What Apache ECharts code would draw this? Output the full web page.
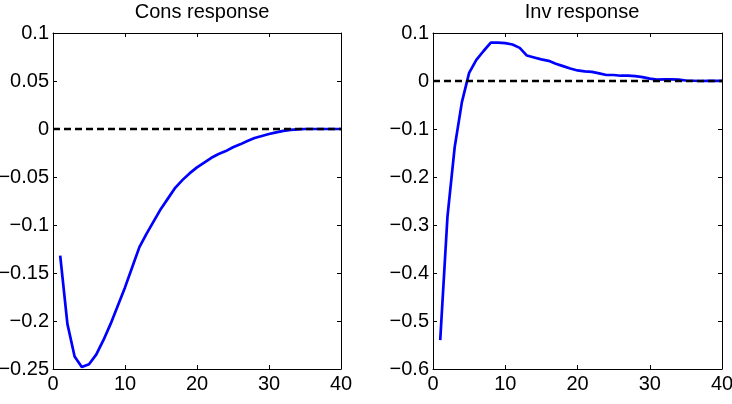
<!DOCTYPE html>
<html>
<head>
<meta charset="utf-8">
<script src="https://cdn.jsdelivr.net/npm/echarts@6/dist/echarts.min.js"></script>
<style>
  html, body { margin: 0; padding: 0; background: #fff; }
  #main { width: 732px; height: 404px; }
</style>
</head>
<body>
<div id="main"></div>
<script>
// periods of the impulse response
var periods = [1,2,3,4,5,6,7,8,9,10,11,12,13,14,15,16,17,18,19,20,
               21,22,23,24,25,26,27,28,29,30,31,32,33,34,35,36,37,38,39,40];
// consumption response
var consResp = [-0.132,-0.203,-0.237,-0.248,-0.245,-0.235,-0.220,-0.203,-0.184,-0.165,
                -0.144,-0.123,-0.109,-0.096,-0.083,-0.072,-0.061,-0.053,-0.046,-0.040,
                -0.035,-0.030,-0.026,-0.023,-0.019,-0.016,-0.0125,-0.0094,-0.0073,-0.0052,
                -0.0035,-0.002,-0.001,-0.0004,0,0,0,0,0,0];
// investment response
var invResp = [-0.540,-0.283,-0.138,-0.044,0.017,0.044,0.0625,0.080,0.080,0.079,
               0.076,0.069,0.053,0.049,0.045,0.042,0.036,0.031,0.026,0.022,
               0.020,0.019,0.016,0.0125,0.0125,0.011,0.011,0.010,0.008,0.005,
               0.003,0.0035,0.0035,0.003,0.001,0.0005,0,0.0005,0.0003,0.0003];
// zero reference line ends
var zeroX = [0, 40];
var zeroY = [0, 0];
var titles = ['Cons response', 'Inv response'];
var xTicks = {min: 0, max: 40, interval: 10};
var consTicks = {min: -0.25, max: 0.1, interval: 0.05};
var invTicks = {min: -0.6, max: 0.1, interval: 0.1};

var font = 'Liberation Sans, Arial, Helvetica, sans-serif';

function pairs(xs, ys){
    var out = [];
    for (var i = 0; i < xs.length; i++) out.push([xs[i], ys[i]]);
    return out;
}

function fmt(v){
    return String(+v.toFixed(4)).replace('-', '\u2212');
}

// one axis, labels only on the main side, ticks pointing inside
function makeX(grid, pos){
    return {
        type: 'value', gridIndex: grid, position: pos,
        min: xTicks.min, max: xTicks.max, interval: xTicks.interval,
        axisLine: {show: true, onZero: false, lineStyle: {color: '#000', width: 1}},
        axisTick: {show: true, inside: true, length: 4, lineStyle: {color: '#000'}},
        axisLabel: {show: pos == 'bottom', margin: 5, color: '#000', fontSize: 20, fontFamily: font, formatter: fmt},
        splitLine: {show: false}
    };
}
function makeY(grid, pos, t){
    return {
        type: 'value', gridIndex: grid, position: pos,
        min: t.min, max: t.max, interval: t.interval,
        axisLine: {show: true, onZero: false, lineStyle: {color: '#000', width: 1}},
        axisTick: {show: true, inside: true, length: 4, lineStyle: {color: '#000'}},
        axisLabel: {show: pos == 'left', margin: 4, color: '#000', fontSize: 20, fontFamily: font, formatter: fmt},
        splitLine: {show: false}
    };
}

var myChart = echarts.init(document.getElementById('main'), null, {renderer: 'canvas'});
var option = {
    backgroundColor: '#fff',
    animation: false,
    title: [
        {text: titles[0], left: 197, top: -3, textAlign: 'center',
         textStyle: {fontSize: 20, fontWeight: 'normal', color: '#000', fontFamily: font}},
        {text: titles[1], left: 577, top: -3, textAlign: 'center',
         textStyle: {fontSize: 20, fontWeight: 'normal', color: '#000', fontFamily: font}}
    ],
    grid: [
        {left: 53, top: 33, width: 288, height: 336, containLabel: false, outerBoundsMode: 'none'},
        {left: 433, top: 33, width: 289, height: 336, containLabel: false, outerBoundsMode: 'none'}
    ],
    xAxis: [makeX(0, 'bottom'), makeX(0, 'top'), makeX(1, 'bottom'), makeX(1, 'top')],
    yAxis: [makeY(0, 'left', consTicks), makeY(0, 'right', consTicks),
            makeY(1, 'left', invTicks), makeY(1, 'right', invTicks)],
    series: [
        {type: 'line', xAxisIndex: 0, yAxisIndex: 0, data: pairs(periods, consResp),
         symbol: 'none', lineStyle: {color: '#0000ff', width: 2.7}},
        {type: 'line', xAxisIndex: 0, yAxisIndex: 0, data: pairs(zeroX, zeroY),
         symbol: 'none', lineStyle: {color: '#000', width: 2.5, type: [7, 4]}},
        {type: 'line', xAxisIndex: 2, yAxisIndex: 2, data: pairs(periods, invResp),
         symbol: 'none', lineStyle: {color: '#0000ff', width: 2.7}},
        {type: 'line', xAxisIndex: 2, yAxisIndex: 2, data: pairs(zeroX, zeroY),
         symbol: 'none', lineStyle: {color: '#000', width: 2.5, type: [7, 4]}}
    ]
};
myChart.setOption(option);
</script>
</body>
</html>
